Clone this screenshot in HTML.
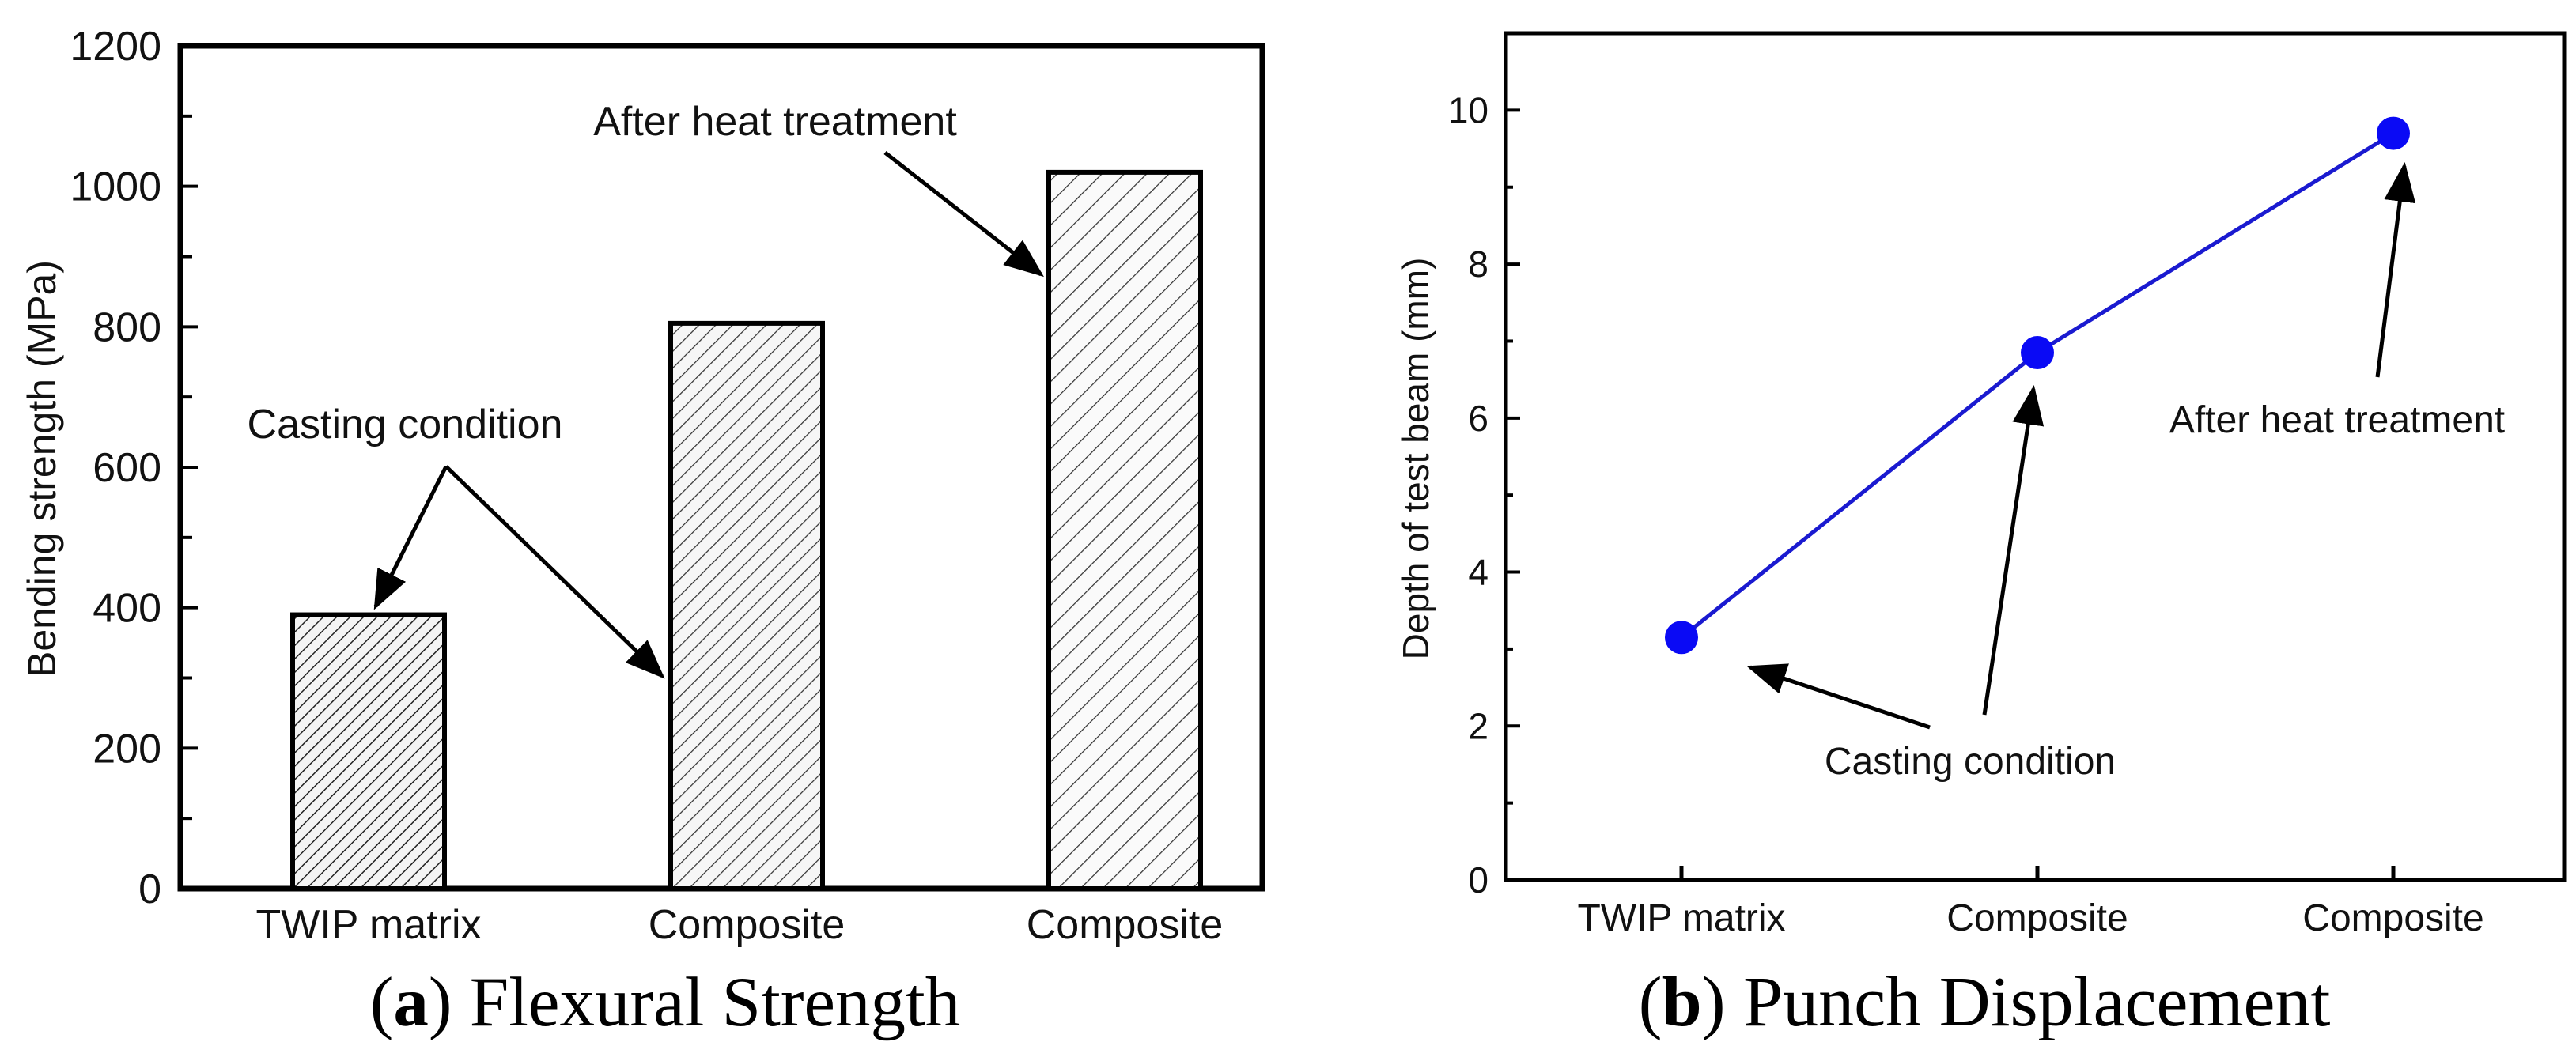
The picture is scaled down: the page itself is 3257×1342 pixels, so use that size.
<!DOCTYPE html>
<html><head><meta charset="utf-8"><style>
html,body{margin:0;padding:0;background:#fff;}
svg{display:block;}
text{font-family:"Liberation Sans",sans-serif;fill:#111;}
.cap{font-family:"Liberation Serif",serif;fill:#000;}
</style></head><body>
<svg id="svg" width="3257" height="1342" viewBox="0 0 3257 1342" xmlns="http://www.w3.org/2000/svg">
<defs>
<pattern id="h1" patternUnits="userSpaceOnUse" width="12" height="12" patternTransform="rotate(45)"><rect width="12" height="12" fill="#f4f4f4"/><line x1="0" y1="0" x2="0" y2="12" stroke="#222" stroke-width="3"/></pattern>
<pattern id="h2" patternUnits="userSpaceOnUse" width="15" height="15" patternTransform="rotate(45)"><rect width="15" height="15" fill="#f6f6f6"/><line x1="0" y1="0" x2="0" y2="15" stroke="#333" stroke-width="2.5"/></pattern>
<pattern id="h3" patternUnits="userSpaceOnUse" width="20" height="20" patternTransform="rotate(45)"><rect width="20" height="20" fill="#fafafa"/><line x1="0" y1="0" x2="0" y2="20" stroke="#333" stroke-width="2.5"/></pattern>
<marker id="ah" markerWidth="10" markerHeight="8" refX="9" refY="4" orient="auto" markerUnits="strokeWidth"><path d="M0,0 L10,4 L0,8 z" fill="#000"/></marker>
</defs>
<g id="chartA"></g>
<g id="chartB"></g>
<text class="cap" x="841" y="1297" font-size="89" text-anchor="middle">(<tspan font-weight="bold">a</tspan>) Flexural Strength</text>
<text class="cap" x="2509" y="1297" font-size="90" text-anchor="middle">(<tspan font-weight="bold">b</tspan>) Punch Displacement</text>
</svg>
<script>
const categoriesA = ["TWIP matrix","Composite","Composite"];
const valuesA = [390, 805, 1020];
const ticksA = [0,200,400,600,800,1000,1200];
const categoriesB = ["TWIP matrix","Composite","Composite"];
const valuesB = [3.15, 6.85, 9.7];
const ticksB = [0,2,4,6,8,10];

const NS="http://www.w3.org/2000/svg";
function mk(parent,tag,attrs,txt){const e=document.createElementNS(NS,tag);for(const k in attrs)e.setAttribute(k,attrs[k]);if(txt!==undefined)e.textContent=txt;parent.appendChild(e);return e;}

// Chart A
const gA=document.getElementById('chartA');
const A={l:228,r:1596,t:58,b:1124,max:1200};
const yA=v=>A.b-(v/A.max)*(A.b-A.t);
const xA=i=>466+i*478;
mk(gA,'rect',{x:A.l,y:A.t,width:A.r-A.l,height:A.b-A.t,fill:'none',stroke:'#000','stroke-width':7});
for(let v=0;v<=1200;v+=100){
  mk(gA,'line',{x1:A.l,x2:A.l+(v%200===0?22:15),y1:yA(v),y2:yA(v),stroke:'#000','stroke-width':4});
}
ticksA.forEach(v=>{
  const t=mk(gA,'text',{x:204,y:yA(v)+18,'font-size':52,'text-anchor':'end'},String(v));
  
  
});
const pats=['url(#h1)','url(#h2)','url(#h3)'];
valuesA.forEach((v,i)=>{
  const r=mk(gA,'rect',{x:xA(i)-96,y:yA(v),width:192,height:A.b-yA(v),fill:pats[i],stroke:'#000','stroke-width':6});
  
  
});
categoriesA.forEach((c,i)=>{
  const t=mk(gA,'text',{x:xA(i),y:1187,'font-size':52,'text-anchor':'middle'},c);
  
  
});
const ytA=mk(gA,'text',{x:0,y:0,'font-size':50,'text-anchor':'middle',transform:'translate(70,593) rotate(-90)'},'Bending strength (MPa)');


const an1=mk(gA,'text',{x:980,y:171,'font-size':52,'text-anchor':'middle'},'After heat treatment');


const an2=mk(gA,'text',{x:512,y:554,'font-size':52,'text-anchor':'middle'},'Casting condition');


[[564,590,475,767],[564,590,837,855],[1119,193,1316,347]].forEach(a=>{
  const l=mk(gA,'line',{x1:a[0],y1:a[1],x2:a[2],y2:a[3],stroke:'#000','stroke-width':5,'marker-end':'url(#ah)'});
  
  
});

// Chart B
const gB=document.getElementById('chartB');
const B={l:1904,r:3242,t:42,b:1113,max:11};
const yB=v=>B.b-(v/B.max)*(B.b-B.t);
const xB=i=>2126+i*450;
mk(gB,'rect',{x:B.l,y:B.t,width:B.r-B.l,height:B.b-B.t,fill:'none',stroke:'#000','stroke-width':5});
for(let v=0;v<=11;v+=1){
  mk(gB,'line',{x1:B.l,x2:B.l+(v%2===0?18:9),y1:yB(v),y2:yB(v),stroke:'#000','stroke-width':4});
}
categoriesB.forEach((c,i)=>{
  mk(gB,'line',{x1:xB(i),x2:xB(i),y1:B.b,y2:B.b-18,stroke:'#000','stroke-width':5});
  const t=mk(gB,'text',{x:xB(i),y:1177,'font-size':48,'text-anchor':'middle'},c);
  
  
});
ticksB.forEach(v=>{
  const t=mk(gB,'text',{x:1882,y:yB(v)+16,'font-size':46,'text-anchor':'end'},String(v));
  
  
});
const pts=valuesB.map((v,i)=>xB(i)+','+yB(v)).join(' ');
const ln=mk(gB,'polyline',{points:pts,fill:'none',stroke:'#1a1ad0','stroke-width':5});


valuesB.forEach((v,i)=>{
  const c=mk(gB,'circle',{cx:xB(i),cy:yB(v),r:21,fill:'#0a0af5'});
  
  
});
const ytB=mk(gB,'text',{x:0,y:0,'font-size':46,'text-anchor':'middle',transform:'translate(1806,580) rotate(-90)'},'Depth of test beam (mm)');


const bn1=mk(gB,'text',{x:2955,y:547,'font-size':48,'text-anchor':'middle'},'After heat treatment');


const bn2=mk(gB,'text',{x:2491,y:979,'font-size':48,'text-anchor':'middle'},'Casting condition');


[[3006,477,3040,210],[2509,904,2571,492],[2440,920,2213,844]].forEach(a=>{
  const l=mk(gB,'line',{x1:a[0],y1:a[1],x2:a[2],y2:a[3],stroke:'#000','stroke-width':5,'marker-end':'url(#ah)'});
  
  
});
</script>
</body></html>
